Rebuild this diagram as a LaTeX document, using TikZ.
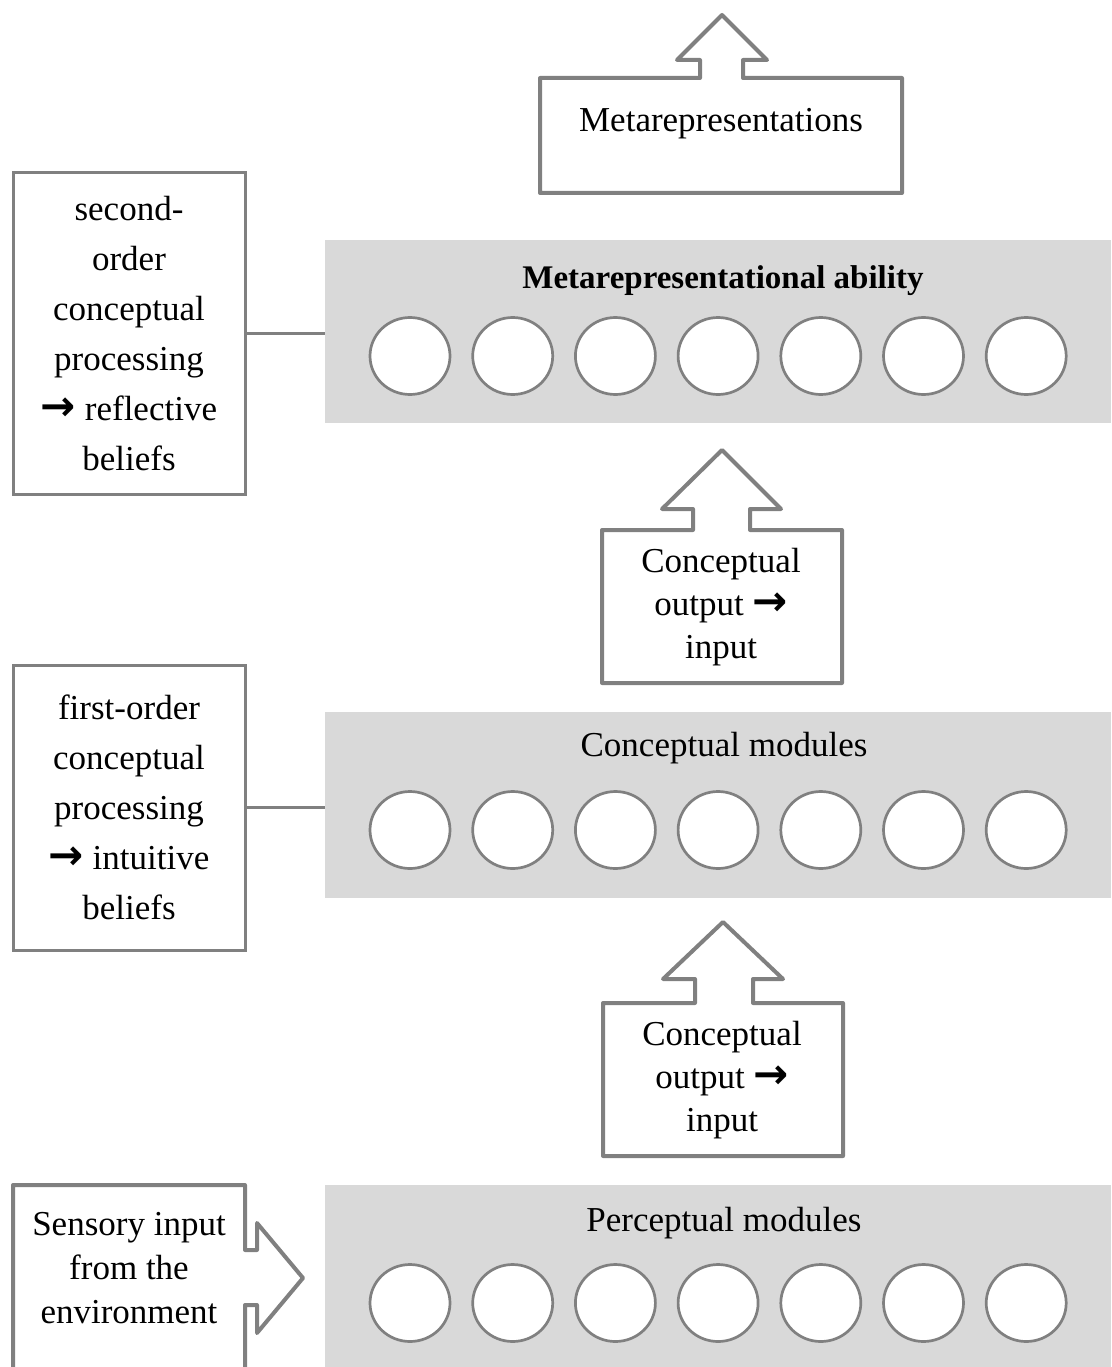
\documentclass[tikz,border=0pt]{standalone}
\usepackage{fontspec}
\setmainfont{Liberation Serif}
\newfontfamily\arrfont{DejaVu Sans}
\newcommand{\rarr}{{\arrfont\bfseries\fontsize{42}{35}\selectfont →}}
\usetikzlibrary{shapes.geometric}
\definecolor{bandgray}{HTML}{D9D9D9}
\definecolor{linegray}{HTML}{808080}
\begin{document}
\begin{tikzpicture}[x=1pt,y=-1pt,
  txt/.style={font=\fontsize{35}{43}\selectfont, align=center, inner sep=0pt},
  lbox/.style={draw=linegray, line width=3pt, fill=white, align=center,
     font=\fontsize{35}{50}\selectfont, inner sep=0pt, minimum width=232pt},
  callout/.style={draw=linegray, line width=4pt, line join=round, fill=white},
  band/.style={fill=bandgray, inner sep=0pt, anchor=north west, minimum width=786pt},
  title/.style={font=\fontsize{35}{43}\selectfont, anchor=base, inner sep=0pt},
  module/.style={ellipse, draw=linegray, line width=2.7pt, fill=white,
     minimum width=80pt, minimum height=77pt, inner sep=0pt},
  conn/.style={draw=linegray, line width=3pt}]
\useasboundingbox (0,0) rectangle (1111,1367);

% ---- bands ----
\node[band, minimum height=183pt] (band1) at (325,240) {};
\node[band, minimum height=186pt] (band2) at (325,712) {};
\node[band, minimum height=182pt] (band3) at (325,1185) {};

\node[title, font=\fontsize{33}{40}\selectfont\bfseries] (t1) at (723,288) {Metarepresentational ability};
\node[title] (t2) at (724,756) {Conceptual modules};
\node[title] (t3) at (724,1231) {Perceptual modules};

\foreach \i in {0,...,6} {
  \node[module] (ma\i) at ({410+102.7*\i},356) {};
  \node[module] (mb\i) at ({410+102.7*\i},830) {};
  \node[module] (mc\i) at ({410+102.7*\i},1303) {};
}

% ---- top callout ----
\draw[callout] (540,78) -- (700,78) -- (700,60) -- (677,60) -- (722,15)
   -- (767,60) -- (743,60) -- (743,78) -- (902,78) -- (902,193) -- (540,193) -- cycle;
\node[title] (meta) at (721,132) {Metarepresentations};

% ---- middle callout ----
\draw[callout] (602,530) -- (693,530) -- (693,509) -- (662,509) -- (722,450)
   -- (781,509) -- (750,509) -- (750,530) -- (842,530) -- (842,683) -- (602,683) -- cycle;
\node[txt] (co1) at (721,607) {Conceptual\\output \rarr\\input};

% ---- lower callout ----
\draw[callout] (603,1003) -- (695,1003) -- (695,979) -- (663,979) -- (723,922)
   -- (783,979) -- (753,979) -- (753,1003) -- (843,1003) -- (843,1156) -- (603,1156) -- cycle;
\node[txt] (co2) at (722,1080) {Conceptual\\output \rarr\\input};

% ---- sensory callout ----
\draw[callout] (13,1380) -- (13,1185) -- (245,1185) -- (245,1250) -- (257,1250)
   -- (257,1223) -- (303,1278) -- (257,1333) -- (257,1305) -- (245,1305) -- (245,1380);
\node[txt, font=\fontsize{35}{44}\selectfont] (sens) at (129,1268) {Sensory input\\from the\\environment};

% ---- left boxes ----
\node[lbox, minimum height=321pt] (lb1) at (129,333.5)
  {second-\\order\\conceptual\\processing\\\rarr\ reflective\\beliefs};
\node[lbox, minimum height=285pt] (lb2) at (129,807.5)
  {first-order\\conceptual\\processing\\\rarr\ intuitive\\beliefs};

\draw[conn] (lb1.east) -- (lb1.east -| band1.west);
\draw[conn] (lb2.east) -- (lb2.east -| band2.west);
\end{tikzpicture}
\end{document}
